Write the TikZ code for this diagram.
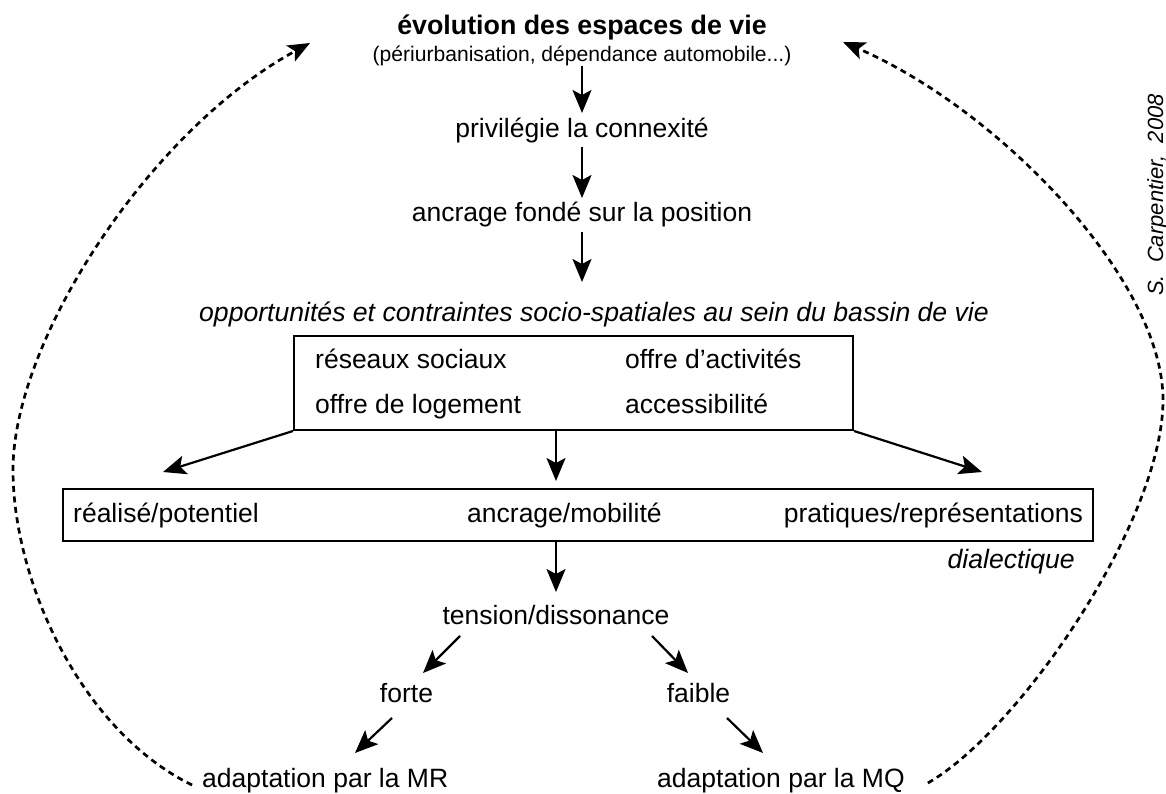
\documentclass[tikz,border=0pt]{standalone}
\usepackage{fontspec}
\setmainfont{Liberation Sans}
\usetikzlibrary{arrows.meta,calc}
\begin{document}
\begin{tikzpicture}[x=1pt,y=-1pt,
  txt/.style={inner sep=0pt, text height=0pt, text depth=0pt, font=\fontsize{26.5}{30}\selectfont},
  ttl/.style={txt, font=\fontsize{26.8}{30}\selectfont\bfseries},
  subt/.style={txt, font=\fontsize{21.1}{25}\selectfont},
  itl/.style={txt, font=\fontsize{26.6}{30}\selectfont\itshape},
  boxs/.style={draw, line width=2pt, inner sep=0pt},
  arr/.style={-{Stealth[length=23pt,width=19pt,inset=5pt]}, line width=2.2pt},
  dsh/.style={-{Stealth[length=22pt,width=18pt,inset=5pt]}, line width=2.7pt, dash pattern=on 6pt off 4.5pt}]
\useasboundingbox (0,0) rectangle (1166,794);
\fill[white] (0,0) rectangle (1166,794);

% top column
\node[ttl, anchor=base] (title) at (582,35) {évolution des espaces de vie};
\node[subt, anchor=base] (sub) at (582,62) {(périurbanisation, dépendance automobile...)};
\node[txt, anchor=base] (priv) at (582,138) {privilégie la connexité};
\node[txt, anchor=base] (anc) at (582,222) {ancrage fondé sur la position};
\node[itl, anchor=base] (ital) at (594,321) {opportunités et contraintes socio-spatiales au sein du bassin de vie};

\draw[arr, shorten <=4pt, shorten >=25pt] (sub.base) -- (priv.base);
\draw[arr, shorten <=9pt, shorten >=24pt] (priv.base) -- (anc.base);
\draw[arr, shorten <=10pt, shorten >=39pt] (anc.base) -- (anc.base |- ital.base);

% box 1
\node[boxs, minimum width=559pt, minimum height=94pt] (box1) at (573.5,383) {};
\node[txt, anchor=base west] (rs) at (315,368) {réseaux sociaux};
\node[txt, anchor=base west] (oa) at (625,368) {offre d'activités};
\node[txt, anchor=base west] (ol) at (315,413) {offre de logement};
\node[txt, anchor=base west] (ac) at (625,413) {accessibilité};

% box 2
\node[boxs, minimum width=1030pt, minimum height=52pt] (box2) at (578,515) {};
\node[txt, anchor=base west] (rp) at (73,522) {réalisé/potentiel};
\node[txt, anchor=base west] (am) at (467,522) {ancrage/mobilité};
\node[txt, anchor=base east] (pr) at (1083,522) {pratiques/représentations};
\node[itl, anchor=base east] (dia) at (1075,568) {dialectique};

\coordinate (c1) at (556,0);
\coordinate (tl) at (163,472);
\coordinate (tr) at (982,472);
\draw[arr] (box1.south west) -- (tl);
\draw[arr] (box1.south east) -- (tr);
\draw[arr, shorten >=7pt] (box1.south -| c1) -- (box2.north -| c1);

% lower part
\node[txt, anchor=base] (ten) at (556,624) {tension/dissonance};
\draw[arr, shorten >=32pt] (box2.south -| c1) -- (ten.base);

\node[txt, anchor=base] (forte) at (406.5,702) {forte};
\node[txt, anchor=base] (faible) at (698.5,702) {faible};
\node[txt, anchor=base west] (mr) at (202,787) {adaptation par la MR};
\node[txt, anchor=base west] (mq) at (657,787) {adaptation par la MQ};

\coordinate (t1s) at ($(ten.base)+(-96,12)$);
\coordinate (t1e) at ($(forte.base)+(16.5,-29)$);
\coordinate (t2s) at ($(ten.base)+(96,12)$);
\coordinate (t2e) at ($(faible.base)+(-10.5,-29)$);
\coordinate (f1s) at ($(forte.base)+(-14.5,16)$);
\coordinate (f1e) at ($(mr.base west)+(153,-34)$);
\coordinate (f2s) at ($(faible.base)+(28.5,16)$);
\coordinate (f2e) at ($(mq.base west)+(106,-34)$);
\draw[arr] (t1s) -- (t1e);
\draw[arr] (t2s) -- (t2e);
\draw[arr] (f1s) -- (f1e);
\draw[arr] (f2s) -- (f2e);

% feedback loops
\coordinate (ls) at ($(mr.base west)+(-10,-2)$);
\coordinate (lt) at (310,43);
\coordinate (rsn) at ($(mq.east |- mq.base)+(23,-4)$);
\coordinate (rt) at (843,42);
\draw[dsh] (ls) .. controls (80,730) and (13,580) .. (13,470) .. controls (13,340) and (150,130) .. (lt);
\draw[dsh] (rsn) .. controls (1020,730) and (1163,520) .. (1163,400) .. controls (1163,280) and (1000,110) .. (rt);

% credit
\node[txt, font=\fontsize{22}{26}\selectfont\itshape, rotate=90, anchor=base] (cred) at (1163,195) {S.\ \ Carpentier,\ \ 2008};
\end{tikzpicture}
\end{document}
